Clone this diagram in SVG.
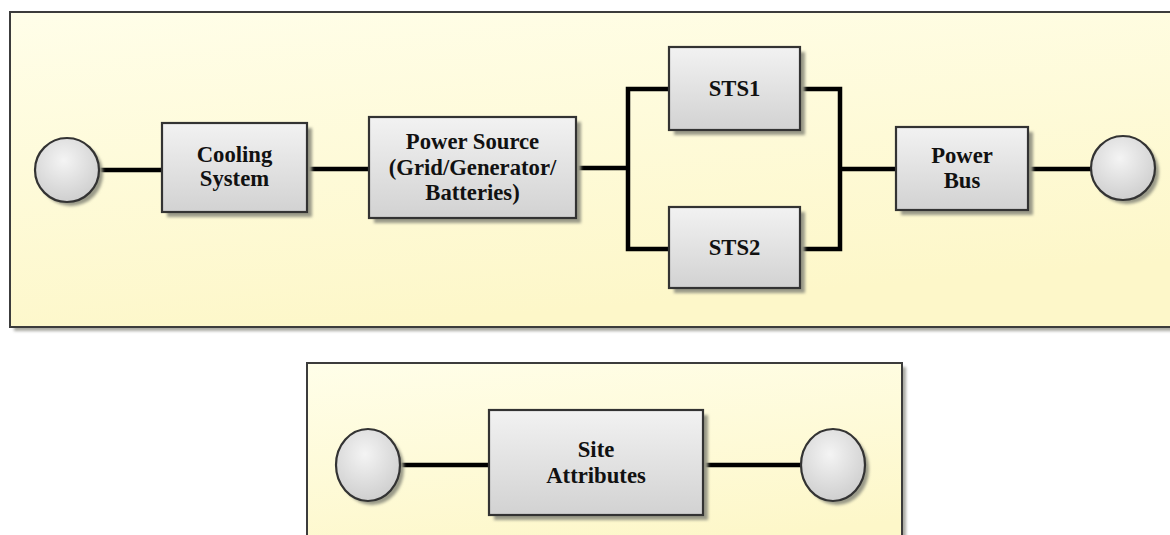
<svg xmlns="http://www.w3.org/2000/svg" width="1170" height="535" viewBox="0 0 1170 535">
<defs>
<linearGradient id="panelFill" x1="0" y1="0" x2="0.3" y2="1">
<stop offset="0" stop-color="#fffee9"/>
<stop offset="1" stop-color="#fdf7c9"/>
</linearGradient>
<linearGradient id="boxFill" x1="0" y1="0" x2="0" y2="1">
<stop offset="0" stop-color="#f2f2f2"/>
<stop offset="1" stop-color="#d2d2d2"/>
</linearGradient>
<radialGradient id="circFill" cx="0.45" cy="0.35" r="0.7">
<stop offset="0" stop-color="#f4f4f4"/>
<stop offset="1" stop-color="#cccccc"/>
</radialGradient>
<filter id="blur" x="-20%" y="-20%" width="140%" height="140%">
<feGaussianBlur stdDeviation="1.5"/>
</filter>
</defs>
<style>
.panel{fill:url(#panelFill);stroke:#3c3c3c;stroke-width:2}
.pshadow{fill:#a9a9a2;filter:url(#blur)}
.box{fill:url(#boxFill);stroke:#333;stroke-width:2.2}
.shadow{fill:#9a9a88;filter:url(#blur)}
.circ{fill:url(#circFill);stroke:#333;stroke-width:2.2}
.wire{fill:none;stroke:#000;stroke-width:4.5;stroke-linejoin:miter}
text{font-family:"Liberation Serif","Times New Roman",serif;font-weight:bold;font-size:22.7px;fill:#111;text-anchor:middle}
</style>
<rect width="1170" height="535" fill="#ffffff"/>
<g id="panel-top">
<rect class="pshadow" x="14" y="16" width="1170" height="315"/>
<rect class="panel" x="10" y="12" width="1170" height="315"/>
</g>
<g id="panel-bottom">
<rect class="pshadow" x="311" y="367" width="595" height="200"/>
<rect class="panel" x="307" y="363" width="595" height="200"/>
</g>
<g id="connectors">
<path class="wire" d="M99 170H162"/>
<path class="wire" d="M307 169H369"/>
<path class="wire" d="M576 168H628"/>
<path class="wire" d="M669 89H628V249H669"/>
<path class="wire" d="M800 89H840V249H800"/>
<path class="wire" d="M840 169H896"/>
<path class="wire" d="M1028 169H1091"/>
<path class="wire" d="M400 465H489"/>
<path class="wire" d="M703 465H801"/>
</g>
<g id="start-top">
<circle class="shadow" cx="71" cy="174" r="32"/>
<circle class="circ" cx="67" cy="170" r="32"/>
</g>
<g id="cooling-system">
<rect class="shadow" x="167" y="128" width="145" height="89"/>
<rect class="box" x="162" y="123" width="145" height="89"/>
<text x="234.5" y="162">Cooling</text>
<text x="234.5" y="186">System</text>
</g>
<g id="power-source">
<rect class="shadow" x="374" y="122" width="207" height="101"/>
<rect class="box" x="369" y="117" width="207" height="101"/>
<text x="472.5" y="149">Power Source</text>
<text x="472.5" y="175">(Grid/Generator/</text>
<text x="472.5" y="200">Batteries)</text>
</g>
<g id="sts1">
<rect class="shadow" x="674" y="52" width="131" height="83"/>
<rect class="box" x="669" y="47" width="131" height="83"/>
<text x="734.5" y="96">STS1</text>
</g>
<g id="sts2">
<rect class="shadow" x="674" y="212" width="131" height="81"/>
<rect class="box" x="669" y="207" width="131" height="81"/>
<text x="734.5" y="255">STS2</text>
</g>
<g id="power-bus">
<rect class="shadow" x="901" y="132" width="132" height="83"/>
<rect class="box" x="896" y="127" width="132" height="83"/>
<text x="962" y="163">Power</text>
<text x="962" y="188">Bus</text>
</g>
<g id="end-top">
<circle class="shadow" cx="1127" cy="172" r="32"/>
<circle class="circ" cx="1123" cy="168" r="32"/>
</g>
<g id="start-bottom">
<ellipse class="shadow" cx="372" cy="469" rx="32" ry="36"/>
<ellipse class="circ" cx="368" cy="465" rx="32" ry="36"/>
</g>
<g id="site-attributes">
<rect class="shadow" x="494" y="415" width="214" height="105"/>
<rect class="box" x="489" y="410" width="214" height="105"/>
<text x="596" y="457">Site</text>
<text x="596" y="483">Attributes</text>
</g>
<g id="end-bottom">
<ellipse class="shadow" cx="837" cy="469" rx="32" ry="36"/>
<ellipse class="circ" cx="833" cy="465" rx="32" ry="36"/>
</g>
</svg>
